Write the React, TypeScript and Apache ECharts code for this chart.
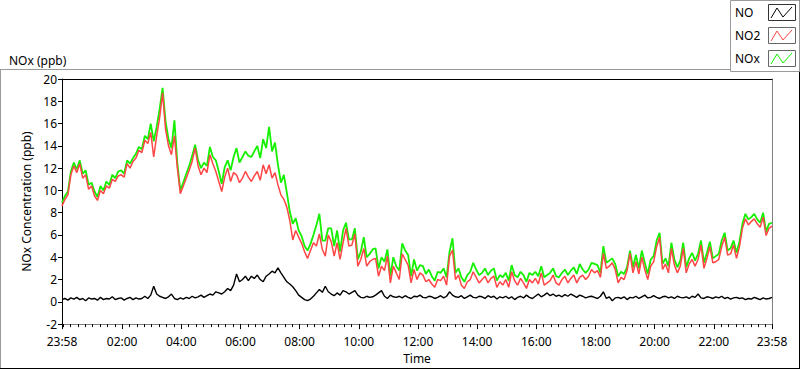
import React, { useEffect, useRef } from "react";
import * as echarts from "echarts";

// Sampling grid: minutes from midnight, first sample at 23:58 of the previous day
const START_MIN = -2;
const STEP_MIN = 6;

const noValues = [
  0.2, 0.3, 0.15, 0.35, 0.25, 0.4, 0.2, 0.3, 0.1, 0.35,
  0.25, 0.3, 0.15, 0.4, 0.2, 0.3, 0.25, 0.45, 0.2, 0.3,
  0.35, 0.15, 0.3, 0.4, 0.2, 0.35, 0.25, 0.3, 0.5, 0.3,
  0.6, 1.4, 0.7, 0.5, 0.4, 0.3, 0.45, 0.7, 0.3, 0.2,
  0.35, 0.25, 0.4, 0.3, 0.5, 0.35, 0.45, 0.6, 0.4, 0.55,
  0.7, 0.6, 0.9, 0.8, 0.7, 0.9, 1.2, 1.0, 1.5, 2.5,
  1.8, 2.0, 2.3, 1.9, 2.3, 2.1, 2.4, 2.0, 1.8, 2.3,
  2.5, 2.75, 2.6, 3.05, 2.6, 2.2, 1.8, 1.6, 1.35, 1.0,
  0.6, 0.4, 0.2, 0.1, 0.25, 0.5, 0.8, 1.1, 0.85, 1.4,
  0.9, 0.7, 0.55, 0.8, 0.6, 1.0, 0.9, 0.7, 0.85, 1.0,
  0.6, 0.4, 0.35, 0.5, 0.4, 0.45, 0.6, 0.8, 1.0, 0.5,
  0.3, 0.6, 0.45, 0.4, 0.5, 0.35, 0.55, 0.4, 0.3, 0.5,
  0.45, 0.6, 0.4, 0.35, 0.5, 0.45, 0.3, 0.4, 0.55, 0.35,
  0.5, 0.9, 0.6, 0.45, 0.4, 0.55, 0.3, 0.45, 0.6, 0.4,
  0.35, 0.5, 0.45, 0.3, 0.55, 0.4, 0.5, 0.25, 0.45, 0.35,
  0.5, 0.3, 0.45, 0.2, 0.4, 0.5, 0.35, 0.6, 0.4, 0.3,
  0.5, 0.7, 0.45, 0.6, 0.8, 0.55, 0.7, 0.5, 0.6, 0.45,
  0.65, 0.5, 0.7, 0.55, 0.4, 0.6, 0.5, 0.35, 0.45, 0.5,
  0.4, 0.3, 0.5, 0.9, 0.3, 0.45, 0.1, 0.35, 0.4, 0.3,
  0.45, 0.2, 0.4, 0.35, 0.5, 0.3, 0.45, 0.6, 0.35, 0.4,
  0.55, 0.4, 0.3, 0.45, 0.5, 0.35, 0.45, 0.3, 0.5, 0.4,
  0.35, 0.45, 0.3, 0.5, 0.4, 0.7, 0.35, 0.3, 0.45, 0.4,
  0.3, 0.45, 0.35, 0.5, 0.3, 0.4, 0.25, 0.35, 0.4, 0.3,
  0.35, 0.2, 0.3, 0.25, 0.4, 0.3, 0.2, 0.35, 0.25, 0.3,
  0.4,
];

const no2Values = [
  8.6, 9.2, 9.6, 11.4, 12.2, 11.6, 12.4, 11.1, 11.4, 10.1,
  10.4, 9.5, 9.1, 10.0, 9.7, 10.4, 10.2, 11.0, 10.8, 11.3,
  11.4, 11.2, 12.4, 12.0, 12.6, 12.9, 13.6, 13.4, 14.5, 14.2,
  15.2, 13.0, 14.9, 16.5, 18.75, 15.5, 14.0, 13.2, 14.9, 12.0,
  9.7, 10.4, 11.1, 11.8, 12.6, 13.8, 12.2, 11.4, 12.0, 11.6,
  13.2, 12.4, 11.7, 10.8, 9.9, 11.2, 12.0, 10.8, 11.6, 11.4,
  10.7, 11.1, 11.7, 11.2, 10.8, 11.3, 11.7, 10.9, 12.3, 11.5,
  12.3, 11.1, 11.6, 10.5, 9.6, 9.2, 8.5, 7.3, 5.55, 6.4,
  5.8, 5.25, 4.5, 3.9, 4.6, 5.3, 5.0, 6.1, 4.7, 4.1,
  6.0, 5.4, 4.1, 5.3, 3.8, 5.3, 6.6, 5.0, 5.1, 6.1,
  3.2, 3.8, 4.8, 3.2, 3.6, 3.8, 3.9, 2.3, 3.2, 2.8,
  4.1, 1.7, 3.2, 2.6, 2.0, 4.3, 3.8, 3.3, 1.7, 2.9,
  2.0, 2.6, 2.4, 1.8, 2.0, 1.6, 1.3, 2.0, 1.9, 2.3,
  1.5, 4.1, 4.65, 2.0, 2.4, 1.5, 1.2, 1.8, 2.0, 2.7,
  2.2, 1.7, 2.0, 2.3, 1.7, 2.1, 2.3, 1.3, 1.8, 1.5,
  2.0, 1.3, 2.7, 1.9, 1.5, 2.1, 1.7, 1.2, 2.0, 1.7,
  2.1, 1.6, 2.6, 1.5, 1.7, 1.9, 2.4, 1.7, 1.5, 2.0,
  2.3, 1.7, 2.1, 2.4, 1.7, 2.2, 2.4, 2.0, 2.3, 2.9,
  2.6, 2.8, 2.2, 4.35, 3.0, 3.2, 3.5, 2.9, 1.7, 2.2,
  2.0, 2.8, 4.35, 2.6, 3.6, 2.5, 4.0, 2.9, 2.0, 3.2,
  3.6, 4.95, 5.8, 2.9, 3.4, 2.6, 4.8, 3.3, 2.6, 3.2,
  4.8, 2.6, 3.4, 3.8, 3.2, 3.8, 5.1, 3.0, 3.9, 4.95,
  3.5, 3.6, 3.8, 4.95, 5.8, 4.2, 4.3, 5.1, 3.9, 4.95,
  6.6, 7.45, 6.9, 7.2, 7.45, 7.0, 6.7, 7.6, 5.95, 6.6,
  6.8,
];

const noxValues = [
  8.9, 9.5, 9.9, 11.7, 12.5, 11.9, 12.7, 11.5, 11.8, 10.5,
  10.7, 9.9, 9.4, 10.4, 10.0, 10.8, 10.5, 11.4, 11.1, 11.7,
  11.8, 11.5, 12.7, 12.4, 12.9, 13.3, 13.9, 13.7, 14.9, 14.6,
  16.0, 14.4, 15.7, 17.3, 19.2, 16.2, 14.6, 13.8, 16.3, 12.4,
  10.0, 10.7, 11.5, 12.2, 13.1, 14.1, 12.7, 12.0, 12.5, 12.2,
  13.9, 13.0, 12.7, 11.7, 10.6, 12.1, 12.7, 11.8, 13.0, 13.8,
  12.5, 13.0, 13.5, 13.1, 13.0, 13.5, 14.0, 12.9, 14.6, 13.8,
  15.7, 13.5, 14.3, 12.3, 10.7, 11.4, 9.8, 8.1, 7.0, 7.5,
  6.4, 5.9, 5.0, 4.6, 5.2, 6.0, 6.9, 7.9, 5.5, 5.5,
  6.6, 6.6, 5.0, 6.4, 4.5, 6.4, 7.1, 5.6, 5.6, 6.6,
  3.8, 4.5, 5.8, 4.0, 4.3, 4.7, 4.8, 3.0, 4.0, 3.6,
  4.7, 2.3, 4.0, 3.2, 2.8, 5.25, 4.6, 4.2, 2.3, 3.8,
  2.8, 3.3, 3.2, 2.5, 2.9, 2.3, 1.9, 2.7, 2.6, 3.0,
  2.2, 4.5, 5.7, 2.6, 3.0, 2.2, 1.8, 2.4, 2.7, 3.5,
  2.9, 2.4, 2.6, 3.0, 2.4, 2.8, 3.0, 1.9, 2.4, 2.2,
  2.6, 1.9, 3.3, 2.4, 2.2, 2.7, 2.4, 1.8, 2.6, 2.4,
  2.7, 2.3, 3.2, 2.2, 2.4, 2.6, 3.0, 2.3, 2.2, 2.6,
  2.9, 2.4, 2.8, 3.1, 2.5, 3.4, 2.9, 2.6, 2.9, 3.5,
  3.4, 3.3, 2.6, 5.0, 3.5, 3.7, 3.9, 3.4, 2.3, 2.7,
  2.5, 3.1, 4.6, 3.1, 4.2, 3.0, 4.6, 3.5, 2.5, 3.8,
  4.1, 5.5, 6.2, 3.4, 3.9, 3.2, 5.3, 3.8, 3.1, 3.7,
  5.3, 3.1, 3.9, 4.4, 3.7, 4.3, 5.5, 3.5, 4.4, 5.4,
  3.9, 4.1, 4.3, 5.5, 6.2, 4.6, 4.8, 5.5, 4.4, 5.4,
  7.0, 7.9, 7.4, 7.6, 7.9, 7.4, 7.1, 8.0, 6.3, 7.0,
  7.1,
];

// Axis ticks (minutes from midnight)
const X_MIN = -2;
const X_MAX = 1438;
const majorTicks = [-2, 120, 240, 360, 480, 600, 720, 840, 960, 1080, 1200, 1320, 1438];
const minorTicks: number[] = [];
for (let m = 0; m <= 1425; m += 15) if (m % 120 !== 0 || m === 0) minorTicks.push(m);

const legendNames = ["NO", "NO2", "NOx"];
const colors = { NO: "#000000", NO2: "#ff4646", NOx: "#14f000" };

const FONT = "'Noto Sans', 'Open Sans', sans-serif";

function fmtTime(v: number): string {
  const m = ((Math.round(v) % 1440) + 1440) % 1440;
  const h = Math.floor(m / 60);
  const mm = m % 60;
  return String(h).padStart(2, "0") + ":" + String(mm).padStart(2, "0");
}

export default function App() {
  const ref = useRef<HTMLDivElement>(null);

  useEffect(() => {
    document.body.style.margin = "0";
    if (!ref.current) return;
    const chart = echarts.init(ref.current, null, { renderer: "svg" });

    const toPairs = (arr: number[]) => arr.map((v, i) => [START_MIN + STEP_MIN * i, v]);

    const legendGraphics: any[] = [
      {
        type: "rect",
        shape: { x: 730.5, y: 0.5, width: 69, height: 71 },
        style: { fill: "#fff", stroke: "#9a9a9a", lineWidth: 1 },
      },
    ];
    legendNames.forEach((name, k) => {
      const y0 = 4 + k * 23;
      legendGraphics.push({
        type: "text",
        style: {
          text: name,
          x: 735,
          y: y0 + 8.5,
          verticalAlign: "middle",
          fill: "#000",
          font: `12px ${FONT}`,
        },
      });
      legendGraphics.push({
        type: "rect",
        shape: { x: 768.5, y: y0 + 0.5, width: 27, height: 16 },
        style: { fill: "#fff", stroke: k === 0 ? "#333" : "#666", lineWidth: 1 },
      });
      legendGraphics.push({
        type: "polyline",
        shape: {
          points: [
            [771, y0 + 14],
            [777, y0 + 4],
            [783, y0 + 13],
            [792, y0 + 3],
          ],
        },
        style: { stroke: (colors as any)[name], lineWidth: 1, fill: "none" },
      });
    });

    const frame: any[] = [
      { type: "line", shape: { x1: 0, y1: 69.5, x2: 730, y2: 69.5 }, style: { stroke: "#9a9a9a", lineWidth: 1 } },
      { type: "line", shape: { x1: 0.5, y1: 69, x2: 0.5, y2: 368 }, style: { stroke: "#9a9a9a", lineWidth: 1 } },
      { type: "line", shape: { x1: 0, y1: 368.5, x2: 800, y2: 368.5 }, style: { stroke: "#000", lineWidth: 1 } },
      { type: "line", shape: { x1: 799.5, y1: 0, x2: 799.5, y2: 369 }, style: { stroke: "#000", lineWidth: 1 } },
    ];

    const option: any = {
      animation: false,
      backgroundColor: "#ffffff",
      textStyle: { fontFamily: FONT },
      title: {
        text: "NOx (ppb)",
        left: 4,
        top: 49,
        textStyle: { fontSize: 12, fontWeight: "normal", color: "#000", fontFamily: FONT },
      },
      grid: { left: 62, top: 79, right: 28, bottom: 40, containLabel: false },
      xAxis: [
        {
          type: "value",
          min: X_MIN,
          max: X_MAX,
          position: "bottom",
          name: "Time",
          nameLocation: "middle",
          nameGap: 26,
          nameTextStyle: { fontSize: 12, color: "#000", fontFamily: FONT },
          axisLine: { show: true, onZero: false, lineStyle: { color: "#808080", width: 1 } },
          axisTick: {
            show: true,
            length: 5,
            customValues: majorTicks,
            lineStyle: { color: "#000", width: 1 },
          },
          axisLabel: {
            show: true,
            customValues: majorTicks,
            margin: 11,
            fontSize: 12,
            color: "#000",
            fontFamily: FONT,
            formatter: (v: number) => fmtTime(v),
          },
          splitLine: { show: false },
        },
        {
          type: "value",
          min: X_MIN,
          max: X_MAX,
          position: "bottom",
          offset: 0,
          axisLine: { show: false, onZero: false },
          axisTick: {
            show: true,
            length: 3,
            customValues: minorTicks,
            lineStyle: { color: "#000", width: 1 },
          },
          axisLabel: { show: false },
          splitLine: { show: false },
        },
        {
          type: "value",
          min: X_MIN,
          max: X_MAX,
          position: "top",
          axisLine: { show: true, onZero: false, lineStyle: { color: "#000", width: 1 } },
          axisTick: { show: false },
          axisLabel: { show: false },
          splitLine: { show: false },
        },
      ],
      yAxis: [
        {
          type: "value",
          min: -2,
          max: 20,
          interval: 2,
          position: "left",
          name: "NOx Concentration (ppb)",
          nameLocation: "middle",
          nameGap: 22,
          nameTextStyle: { fontSize: 12, color: "#000", fontFamily: FONT },
          axisLine: { show: true, onZero: false, lineStyle: { color: "#000", width: 1 } },
          axisTick: { show: true, length: 4, lineStyle: { color: "#000" } },
          axisLabel: { margin: 5, fontSize: 12, color: "#000", fontFamily: FONT },
          splitLine: { show: false },
        },
        {
          type: "value",
          min: -2,
          max: 20,
          interval: 2,
          position: "right",
          axisLine: { show: true, onZero: false, lineStyle: { color: "#808080", width: 1 } },
          axisTick: { show: false },
          axisLabel: { show: false },
          splitLine: { show: false },
        },
      ],
      series: [
        {
          name: "NOx",
          type: "line",
          xAxisIndex: 0,
          yAxisIndex: 0,
          data: toPairs(noxValues),
          showSymbol: false,
          symbol: "none",
          lineStyle: { color: colors.NOx, width: 1.8 },
          itemStyle: { color: colors.NOx },
          z: 2,
        },
        {
          name: "NO2",
          type: "line",
          xAxisIndex: 0,
          yAxisIndex: 0,
          data: toPairs(no2Values),
          showSymbol: false,
          symbol: "none",
          lineStyle: { color: colors.NO2, width: 1.5 },
          itemStyle: { color: colors.NO2 },
          z: 3,
        },
        {
          name: "NO",
          type: "line",
          xAxisIndex: 0,
          yAxisIndex: 0,
          data: toPairs(noValues),
          showSymbol: false,
          symbol: "none",
          lineStyle: { color: colors.NO, width: 1.4 },
          itemStyle: { color: colors.NO },
          z: 4,
        },
      ],
      graphic: [...frame, ...legendGraphics],
    };

    chart.setOption(option);
    return () => chart.dispose();
  }, []);

  return <div ref={ref} style={{ width: 800, height: 369 }} />;
}
